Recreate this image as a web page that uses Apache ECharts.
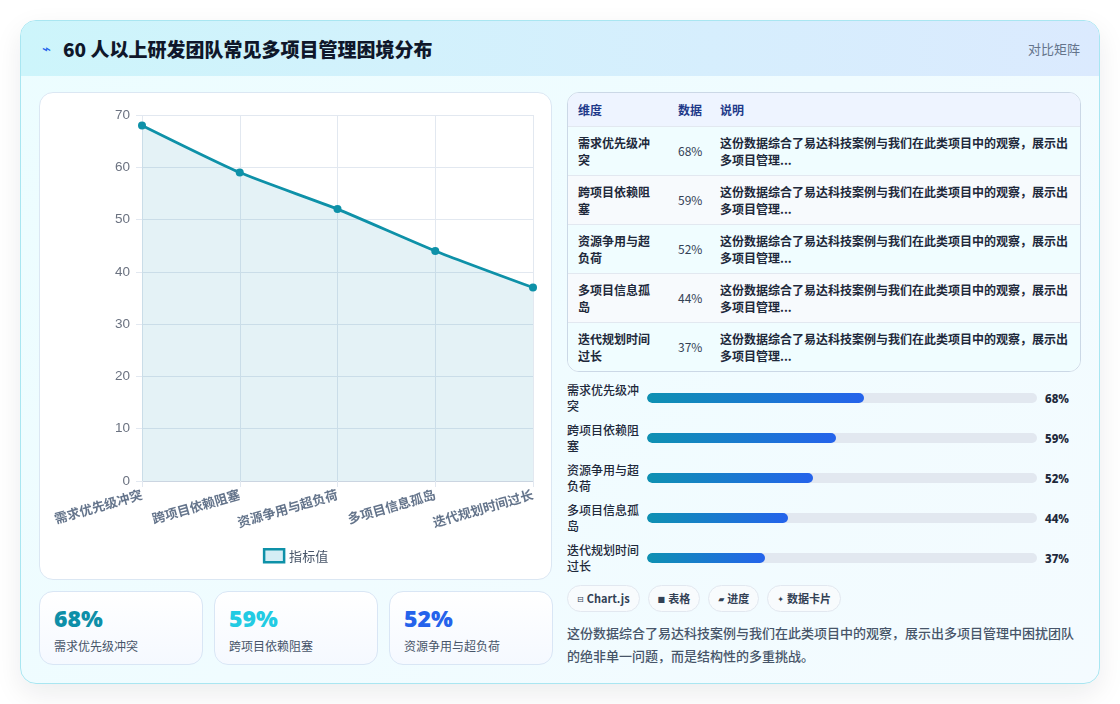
<!DOCTYPE html>
<html lang="zh-CN">
<head>
<meta charset="utf-8">
<title>60 人以上研发团队常见多项目管理困境分布</title>
<script src="https://cdn.jsdelivr.net/npm/echarts@6/dist/echarts.min.js"></script>
<style>
  * { box-sizing: border-box; }
  html, body { margin: 0; padding: 0; }
  body {
    width: 1120px; height: 704px; background: #ffffff; overflow: hidden;
    font-family: "Noto Sans CJK SC", "Noto Sans", sans-serif; color: #1e293b;
  }
  .card {
    position: absolute; left: 20px; top: 20px; width: 1080px; height: 664px;
    border: 1px solid #a9e6f1; border-radius: 16px; overflow: hidden;
    background: linear-gradient(135deg, #ecfdff 0%, #f4fbff 100%);
    box-shadow: 0 10px 28px rgba(15, 23, 42, 0.08);
  }
  .header {
    position: absolute; left: 0; top: 0; width: 100%; height: 55px;
    background: linear-gradient(90deg, #cdf5fb 0%, #dbeafe 100%);
    display: flex; align-items: center; justify-content: space-between;
    padding: 0 19px 0 21px;
  }
  .title { font-size: 19px; font-weight: 900; color: #0f172a; display: flex; align-items: center; }
  .title .icon { font-family: "DejaVu Sans", sans-serif; color: #2563eb; font-size: 15px; margin-right: 12px; font-weight: 400; }
  .tag { font-size: 13px; color: #64748b; }
  .chart-box {
    position: absolute; left: 18px; top: 71px; width: 513px; height: 488px;
    background: #ffffff; border: 1px solid #dbe7f3; border-radius: 14px;
  }
  #chart { width: 100%; height: 100%; }
  .stats { position: absolute; left: 18px; top: 570px; display: flex; gap: 11px; }
  .stat {
    width: 164px; height: 74px; border: 1px solid #d9e6f5; border-radius: 14px;
    background: linear-gradient(180deg, #ffffff 0%, #f5f9ff 100%);
    padding: 11px 14px 0 14px;
  }
  .stat .v { font-size: 23px; font-weight: 900; line-height: 30px; font-family: "Noto Sans", "Noto Sans CJK SC", sans-serif; }
  .stat .l { font-size: 12px; color: #475569; margin-top: 5px; line-height: 16px; }
  .stat:nth-child(1) .v { color: #0e8fa8; }
  .stat:nth-child(2) .v { color: #22cbe3; }
  .stat:nth-child(3) .v { color: #2563eb; }
  .right { position: absolute; left: 546px; top: 71px; width: 514px; }
  .tbl-wrap { border: 1px solid #cbd8e6; border-radius: 12px; overflow: hidden; background: #ffffff; }
  table { width: 100%; border-collapse: collapse; table-layout: fixed; font-size: 12px; }
  th { background: #eef4ff; color: #1e3a8a; font-weight: 700; text-align: left; height: 33px; padding: 0 10px; white-space: nowrap; }
  td { padding: 0 10px; height: 49px; border-top: 1px solid #e2e8f0; line-height: 17px; color: #334155; }
  tr:nth-child(odd) td { background: #f0fdff; }
  tr:nth-child(even) td { background: #f7fafd; }
  td.dim { font-weight: 700; color: #1e293b; }
  td.num { white-space: nowrap; color: #334155; }
  td.desc { font-weight: 700; color: #1e293b; padding-right: 4px; }
  .bars { margin-top: 6px; }
  .bar-row { display: flex; align-items: center; height: 40px; }
  .bar-row .lab { width: 80px; padding-right: 6px; font-size: 12px; line-height: 16px; color: #1e293b; font-weight: 500; }
  .bar-row .track { width: 390px; height: 10px; border-radius: 5px; background: #e2e8f0; overflow: hidden; }
  .bar-row .fill { height: 100%; border-radius: 5px; background: linear-gradient(90deg, #0e91b2 0%, #2563eb 100%); }
  .bar-row .pct { margin-left: 8px; font-size: 11.5px; font-weight: 800; color: #1e293b; font-family: "Noto Sans", sans-serif; }
  .chips { display: flex; gap: 8px; margin-top: 7px; }
  .chip {
    height: 27px; line-height: 25px; padding: 0 9px; border: 1px solid #e2e8f0; border-radius: 14px;
    background: #f8fbfd; font-size: 11px; font-weight: 700; color: #334155; white-space: nowrap;
  }
  .chip .g { font-family: "DejaVu Sans", sans-serif; font-weight: 400; font-size: 8px; margin-right: 3px; vertical-align: 1px; }
  .summary { margin-top: 9px; font-size: 13px; line-height: 23px; color: #475569; font-weight: 500; }
</style>
</head>
<body>
<div class="card">
  <div class="header">
    <div class="title"><span class="icon">⌁</span>60 人以上研发团队常见多项目管理困境分布</div>
    <div class="tag">对比矩阵</div>
  </div>
  <div class="chart-box"><div id="chart"></div></div>
  <div class="stats" id="stats"></div>
  <div class="right">
    <div class="tbl-wrap">
      <table>
        <colgroup><col style="width:100px"><col style="width:42px"><col></colgroup>
        <thead><tr><th>维度</th><th>数据</th><th>说明</th></tr></thead>
        <tbody id="tbody"></tbody>
      </table>
    </div>
    <div class="bars" id="bars"></div>
    <div class="chips" id="chips"></div>
    <div class="summary" id="summary"></div>
  </div>
</div>
<script>
// 数据
const categories = ['需求优先级冲突', '跨项目依赖阻塞', '资源争用与超负荷', '多项目信息孤岛', '迭代规划时间过长'];
const values = [68, 59, 52, 44, 37];
const seriesName = '指标值';
const rowNote = '这份数据综合了易达科技案例与我们在此类项目中的观察，展示出多项目管理...';
const chipGlyphs = ['⊟', '■', '▰', '✦'];
const chipLabels = ['Chart.js', '表格', '进度', '数据卡片'];
const summaryText = '这份数据综合了易达科技案例与我们在此类项目中的观察，展示出多项目管理中困扰团队的绝非单一问题，而是结构性的多重挑战。';
const yMin = 0;
const yMax = 70;
const yStep = 10;
const barScale = 122; // 进度条满格对应的数值

// 表格
const tbody = document.getElementById('tbody');
categories.forEach((name, i) => {
  const tr = document.createElement('tr');
  tr.innerHTML = `<td class="dim">${name}</td><td class="num">${values[i]}%</td><td class="desc">${rowNote}</td>`;
  tbody.appendChild(tr);
});

// 进度条
const bars = document.getElementById('bars');
categories.forEach((name, i) => {
  const row = document.createElement('div');
  row.className = 'bar-row';
  row.innerHTML = `<div class="lab">${name}</div><div class="track"><div class="fill" style="width:${(values[i] / barScale) * 100}%"></div></div><div class="pct">${values[i]}%</div>`;
  bars.appendChild(row);
});

// 标签
const chips = document.getElementById('chips');
chipLabels.forEach((label, i) => {
  const chip = document.createElement('div');
  chip.className = 'chip';
  chip.innerHTML = `<span class="g">${chipGlyphs[i]}</span>${label}`;
  chips.appendChild(chip);
});
document.getElementById('summary').textContent = summaryText;

// 数据卡片（前三项）
const stats = document.getElementById('stats');
categories.slice(0, 3).forEach((name, i) => {
  const el = document.createElement('div');
  el.className = 'stat';
  el.innerHTML = `<div class="v">${values[i]}%</div><div class="l">${name}</div>`;
  stats.appendChild(el);
});

// 折线图
const myChart = echarts.init(document.getElementById('chart'), null, { renderer: 'canvas' });
myChart.setOption({
  animation: false,
  grid: { left: 102, right: 18, top: 22, bottom: 98 },
  legend: {
    data: [seriesName],
    top: 450,
    left: 'center',
    icon: 'rect',
    itemWidth: 20,
    itemHeight: 13,
    itemGap: 6,
    itemStyle: { color: '#d5eef5', borderColor: '#0e91a8', borderWidth: 2.5 },
    textStyle: { color: '#475569', fontSize: 13, fontFamily: 'Noto Sans CJK SC' },
  },
  xAxis: {
    type: 'category',
    boundaryGap: false,
    data: categories,
    axisLine: { lineStyle: { color: '#cbd5e1' } },
    axisTick: { show: true, length: 6, lineStyle: { color: '#e2e8f0' } },
    splitLine: { show: true, lineStyle: { color: '#e2e8f0' } },
    axisLabel: {
      rotate: 16, margin: 13, color: '#64748b', fontSize: 13, fontWeight: 'bold',
      fontFamily: 'Noto Sans CJK SC', interval: 0,
    },
  },
  yAxis: {
    type: 'value',
    min: yMin,
    max: yMax,
    interval: yStep,
    axisLine: { show: false },
    axisTick: { show: true, length: 6, lineStyle: { color: '#e2e8f0' } },
    splitLine: { show: true, lineStyle: { color: '#e2e8f0' } },
    axisLabel: { color: '#6b7280', fontSize: 13.5, margin: 12, fontFamily: 'Liberation Sans' },
  },
  series: [
    {
      name: seriesName,
      type: 'line',
      data: values,
      smooth: 0.2,
      symbol: 'circle',
      symbolSize: 8,
      lineStyle: { width: 2.8, color: '#0e91a8' },
      itemStyle: { color: '#0e91a8' },
      areaStyle: { color: 'rgba(14,145,178,0.16)' },
    },
  ],
});
</script>
</body>
</html>
